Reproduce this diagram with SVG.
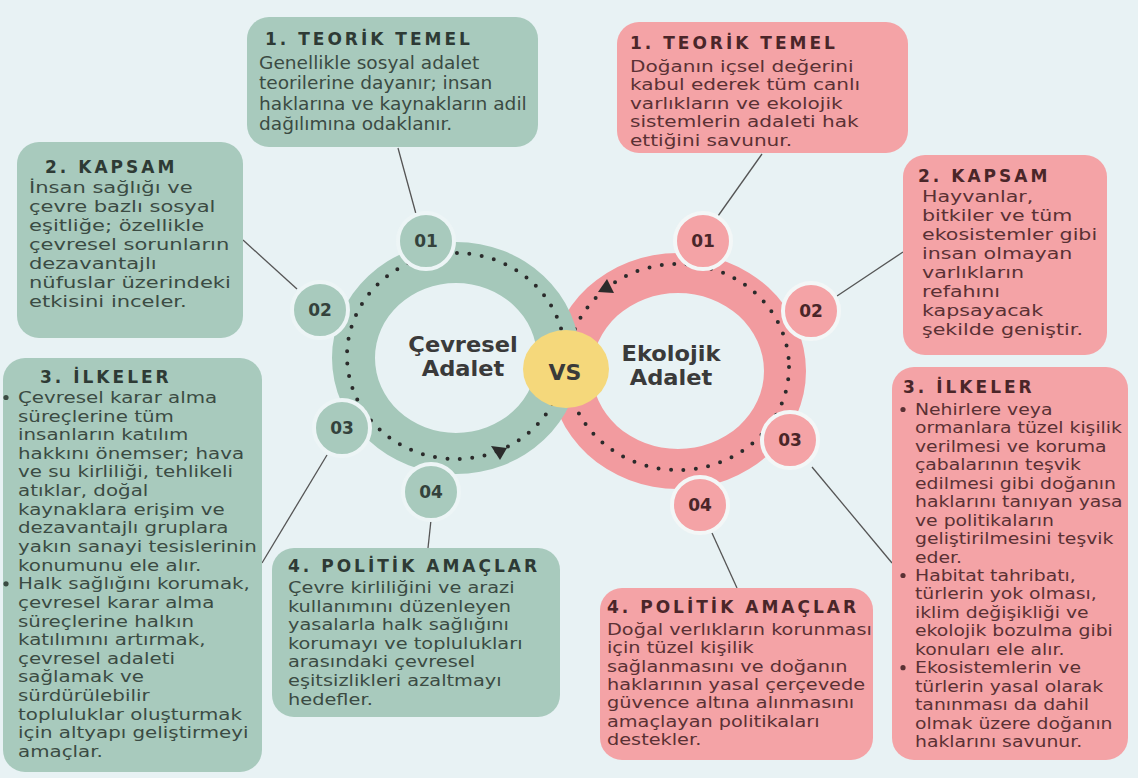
<svg xmlns="http://www.w3.org/2000/svg" width="1138" height="778" viewBox="0 0 1138 778">
<style>
.bg{fill:#e8f2f4}
.gbox{fill:#a8cabd}
.rbox{fill:#f4a3a6}
.gt{font-family:"DejaVu Sans",sans-serif;font-weight:bold;font-size:17px;letter-spacing:3px;fill:#2e3a35}
.rt{font-family:"DejaVu Sans",sans-serif;font-weight:bold;font-size:17px;letter-spacing:3px;fill:#4a2629}
.gb{font-family:"DejaVu Sans",sans-serif;fill:#3b4b43}
.rb{font-family:"DejaVu Sans",sans-serif;fill:#5a3134}
.gdot{fill:#3b4b43}
.rdot{fill:#5a3134}
.badgeg{fill:#a8cabd;stroke:#edf5f6;stroke-width:4}
.badger{fill:#f4a3a6;stroke:#f3f7f7;stroke-width:4}
.num{font-family:"DejaVu Sans",sans-serif;font-weight:bold;font-size:17px;text-anchor:middle}
.conn{stroke:#555;stroke-width:1.3;fill:none}
.dots{fill:none;stroke:#2b2b2b;stroke-width:4;stroke-linecap:round;stroke-dasharray:0 12.5}
.center{font-family:"DejaVu Sans",sans-serif;font-weight:bold;font-size:20.5px;fill:#3a3a3a;text-anchor:middle}
</style>
<rect class="bg" x="0" y="0" width="1138" height="778"/>

<g id="connectors">
<line class="conn" x1="398" y1="148" x2="416" y2="214"/>
<line class="conn" x1="243" y1="240" x2="297" y2="289"/>
<line class="conn" x1="327" y1="455" x2="262" y2="563"/>
<line class="conn" x1="431" y1="520" x2="428" y2="548"/>
<line class="conn" x1="762" y1="154" x2="718" y2="216"/>
<line class="conn" x1="837" y1="296" x2="903" y2="252"/>
<line class="conn" x1="812" y1="467" x2="892" y2="563"/>
<line class="conn" x1="712" y1="533" x2="737" y2="588"/>
</g>

<g id="ring-ekolojik">
<path fill="#f29b9f" fill-rule="evenodd" d="M550,371 a128,118 0 1,0 256,0 a128,118 0 1,0 -256,0 Z M592,371 a86,78 0 1,0 172,0 a86,78 0 1,0 -172,0 Z"/>
<ellipse class="dots" cx="678" cy="367" rx="111" ry="103"/>
<polygon points="598,292 607,279 614,293" fill="#2b2b2b"/>
</g>

<g id="ring-cevresel">
<path fill="#a5c8ba" fill-rule="evenodd" d="M332,358 a124,116 0 1,0 248,0 a124,116 0 1,0 -248,0 Z M375,358 a81,75 0 1,0 162,0 a81,75 0 1,0 -162,0 Z"/>
<ellipse class="dots" cx="456" cy="356" rx="109" ry="103"/>
<polygon points="491,446 507,448 500,460" fill="#2b2b2b"/>
</g>

<g id="label-cevresel" transform="translate(463,0) scale(1.1,1)">
<text class="center" x="0" y="352">Çevresel</text>
<text class="center" x="0" y="376">Adalet</text>
</g>
<g id="label-ekolojik" transform="translate(671,0) scale(1.1,1)">
<text class="center" x="0" y="361">Ekolojik</text>
<text class="center" x="0" y="385">Adalet</text>
</g>
<g id="vs">
<ellipse cx="566" cy="369" rx="43" ry="39" fill="#f5d87b"/>
<text class="center" x="565" y="380" style="font-size:22px">VS</text>
</g>

<g id="badge-g01"><circle class="badgeg" cx="426" cy="241" r="28"/><text class="num" x="426" y="247" fill="#34423c">01</text></g>
<g id="badge-g02"><circle class="badgeg" cx="320" cy="310" r="28"/><text class="num" x="320" y="316" fill="#34423c">02</text></g>
<g id="badge-g03"><circle class="badgeg" cx="342" cy="428" r="28"/><text class="num" x="342" y="434" fill="#34423c">03</text></g>
<g id="badge-g04"><circle class="badgeg" cx="431" cy="492" r="28"/><text class="num" x="431" y="498" fill="#34423c">04</text></g>
<g id="badge-r01"><circle class="badger" cx="703" cy="241" r="28"/><text class="num" x="703" y="247" fill="#4a2629">01</text></g>
<g id="badge-r02"><circle class="badger" cx="811" cy="311" r="28"/><text class="num" x="811" y="317" fill="#4a2629">02</text></g>
<g id="badge-r03"><circle class="badger" cx="790" cy="440" r="28"/><text class="num" x="790" y="446" fill="#4a2629">03</text></g>
<g id="badge-r04"><circle class="badger" cx="700" cy="505" r="28"/><text class="num" x="700" y="511" fill="#4a2629">04</text></g>

<g id="g-teorik">
<rect class="gbox" x="247" y="17" width="291" height="130" rx="22"/>
<text class="gt" x="265" y="45">1. TEORİK TEMEL</text>
<g transform="translate(259,0) scale(1.08,1)">
<text class="gb" style="font-size:17.2px">
<tspan x="0" y="69">Genellikle sosyal adalet</tspan>
<tspan x="0" y="89.5">teorilerine dayanır; insan</tspan>
<tspan x="0" y="110">haklarına ve kaynakların adil</tspan>
<tspan x="0" y="130">dağılımına odaklanır.</tspan>
</text>
</g>
</g>

<g id="g-kapsam">
<rect class="gbox" x="17" y="142" width="226" height="196" rx="22"/>
<text class="gt" x="45" y="173">2. KAPSAM</text>
<g transform="translate(29,0) scale(1.3,1)">
<text class="gb" style="font-size:16.2px">
<tspan x="0" y="193">İnsan sağlığı ve</tspan>
<tspan x="0" y="212">çevre bazlı sosyal</tspan>
<tspan x="0" y="231">eşitliğe; özellikle</tspan>
<tspan x="0" y="250">çevresel sorunların</tspan>
<tspan x="0" y="269">dezavantajlı</tspan>
<tspan x="0" y="288">nüfuslar üzerindeki</tspan>
<tspan x="0" y="307">etkisini inceler.</tspan>
</text>
</g>
</g>

<g id="g-ilkeler">
<rect class="gbox" x="3" y="358" width="259" height="414" rx="22"/>
<text class="gt" x="40" y="383">3. İLKELER</text>
<circle class="gdot" cx="6" cy="397.5" r="2.6"/>
<circle class="gdot" cx="6" cy="583.8" r="2.6"/>
<g transform="translate(18,0) scale(1.24,1)">
<text class="gb" style="font-size:16px">
<tspan x="0" y="403">Çevresel karar alma</tspan>
<tspan x="0" y="421.6">süreçlerine tüm</tspan>
<tspan x="0" y="440.3">insanların katılım</tspan>
<tspan x="0" y="458.9">hakkını önemser; hava</tspan>
<tspan x="0" y="477.5">ve su kirliliği, tehlikeli</tspan>
<tspan x="0" y="496.2">atıklar, doğal</tspan>
<tspan x="0" y="514.8">kaynaklara erişim ve</tspan>
<tspan x="0" y="533.4">dezavantajlı gruplara</tspan>
<tspan x="0" y="552">yakın sanayi tesislerinin</tspan>
<tspan x="0" y="570.7">konumunu ele alır.</tspan>
<tspan x="0" y="589.3">Halk sağlığını korumak,</tspan>
<tspan x="0" y="608">çevresel karar alma</tspan>
<tspan x="0" y="626.6">süreçlerine halkın</tspan>
<tspan x="0" y="645.2">katılımını artırmak,</tspan>
<tspan x="0" y="663.8">çevresel adaleti</tspan>
<tspan x="0" y="682.5">sağlamak ve</tspan>
<tspan x="0" y="701.1">sürdürülebilir</tspan>
<tspan x="0" y="719.7">topluluklar oluşturmak</tspan>
<tspan x="0" y="738.4">için altyapı geliştirmeyi</tspan>
<tspan x="0" y="757">amaçlar.</tspan>
</text>
</g>
</g>

<g id="g-politik">
<rect class="gbox" x="272" y="548" width="288" height="169" rx="22"/>
<text class="gt" x="288" y="572">4. POLİTİK AMAÇLAR</text>
<g transform="translate(288,0) scale(1.21,1)">
<text class="gb" style="font-size:16px">
<tspan x="0" y="593">Çevre kirliliğini ve arazi</tspan>
<tspan x="0" y="611.6">kullanımını düzenleyen</tspan>
<tspan x="0" y="630.2">yasalarla halk sağlığını</tspan>
<tspan x="0" y="648.8">korumayı ve toplulukları</tspan>
<tspan x="0" y="667.4">arasındaki çevresel</tspan>
<tspan x="0" y="686">eşitsizlikleri azaltmayı</tspan>
<tspan x="0" y="704.6">hedefler.</tspan>
</text>
</g>
</g>

<g id="r-teorik">
<rect class="rbox" x="617" y="22" width="291" height="131" rx="22"/>
<text class="rt" x="630" y="49">1. TEORİK TEMEL</text>
<g transform="translate(630,0) scale(1.27,1)">
<text class="rb" style="font-size:15.8px">
<tspan x="0" y="72">Doğanın içsel değerini</tspan>
<tspan x="0" y="90.5">kabul ederek tüm canlı</tspan>
<tspan x="0" y="109">varlıkların ve ekolojik</tspan>
<tspan x="0" y="127.5">sistemlerin adaleti hak</tspan>
<tspan x="0" y="146">ettiğini savunur.</tspan>
</text>
</g>
</g>

<g id="r-kapsam">
<rect class="rbox" x="903" y="155" width="204" height="200" rx="22"/>
<text class="rt" x="918" y="182">2. KAPSAM</text>
<g transform="translate(922,0) scale(1.27,1)">
<text class="rb" style="font-size:16.2px">
<tspan x="0" y="202">Hayvanlar,</tspan>
<tspan x="0" y="221">bitkiler ve tüm</tspan>
<tspan x="0" y="240">ekosistemler gibi</tspan>
<tspan x="0" y="259">insan olmayan</tspan>
<tspan x="0" y="278">varlıkların</tspan>
<tspan x="0" y="297">refahını</tspan>
<tspan x="0" y="316">kapsayacak</tspan>
<tspan x="0" y="335">şekilde geniştir.</tspan>
</text>
</g>
</g>

<g id="r-ilkeler">
<rect class="rbox" x="892" y="367" width="236" height="393" rx="22"/>
<text class="rt" x="903" y="393">3. İLKELER</text>
<circle class="rdot" cx="903" cy="409.5" r="2.6"/>
<circle class="rdot" cx="903" cy="575.5" r="2.6"/>
<circle class="rdot" cx="903" cy="667.7" r="2.6"/>
<g transform="translate(915,0) scale(1.19,1)">
<text class="rb" style="font-size:15.8px">
<tspan x="0" y="415">Nehirlere veya</tspan>
<tspan x="0" y="433.4">ormanlara tüzel kişilik</tspan>
<tspan x="0" y="451.9">verilmesi ve koruma</tspan>
<tspan x="0" y="470.3">çabalarının teşvik</tspan>
<tspan x="0" y="488.8">edilmesi gibi doğanın</tspan>
<tspan x="0" y="507.2">haklarını tanıyan yasa</tspan>
<tspan x="0" y="525.7">ve politikaların</tspan>
<tspan x="0" y="544.1">geliştirilmesini teşvik</tspan>
<tspan x="0" y="562.6">eder.</tspan>
<tspan x="0" y="581">Habitat tahribatı,</tspan>
<tspan x="0" y="599.4">türlerin yok olması,</tspan>
<tspan x="0" y="617.9">iklim değişikliği ve</tspan>
<tspan x="0" y="636.3">ekolojik bozulma gibi</tspan>
<tspan x="0" y="654.8">konuları ele alır.</tspan>
<tspan x="0" y="673.2">Ekosistemlerin ve</tspan>
<tspan x="0" y="691.7">türlerin yasal olarak</tspan>
<tspan x="0" y="710.1">tanınması da dahil</tspan>
<tspan x="0" y="728.6">olmak üzere doğanın</tspan>
<tspan x="0" y="747">haklarını savunur.</tspan>
</text>
</g>
</g>

<g id="r-politik">
<rect class="rbox" x="600" y="588" width="273" height="172" rx="22"/>
<text class="rt" x="607" y="613">4. POLİTİK AMAÇLAR</text>
<g transform="translate(607,0) scale(1.23,1)">
<text class="rb" style="font-size:15.7px">
<tspan x="0" y="635">Doğal verlıkların korunması</tspan>
<tspan x="0" y="653.3">için tüzel kişilik</tspan>
<tspan x="0" y="671.7">sağlanmasını ve doğanın</tspan>
<tspan x="0" y="690">haklarının yasal çerçevede</tspan>
<tspan x="0" y="708.3">güvence altına alınmasını</tspan>
<tspan x="0" y="726.7">amaçlayan politikaları</tspan>
<tspan x="0" y="745">destekler.</tspan>
</text>
</g>
</g>
</svg>
